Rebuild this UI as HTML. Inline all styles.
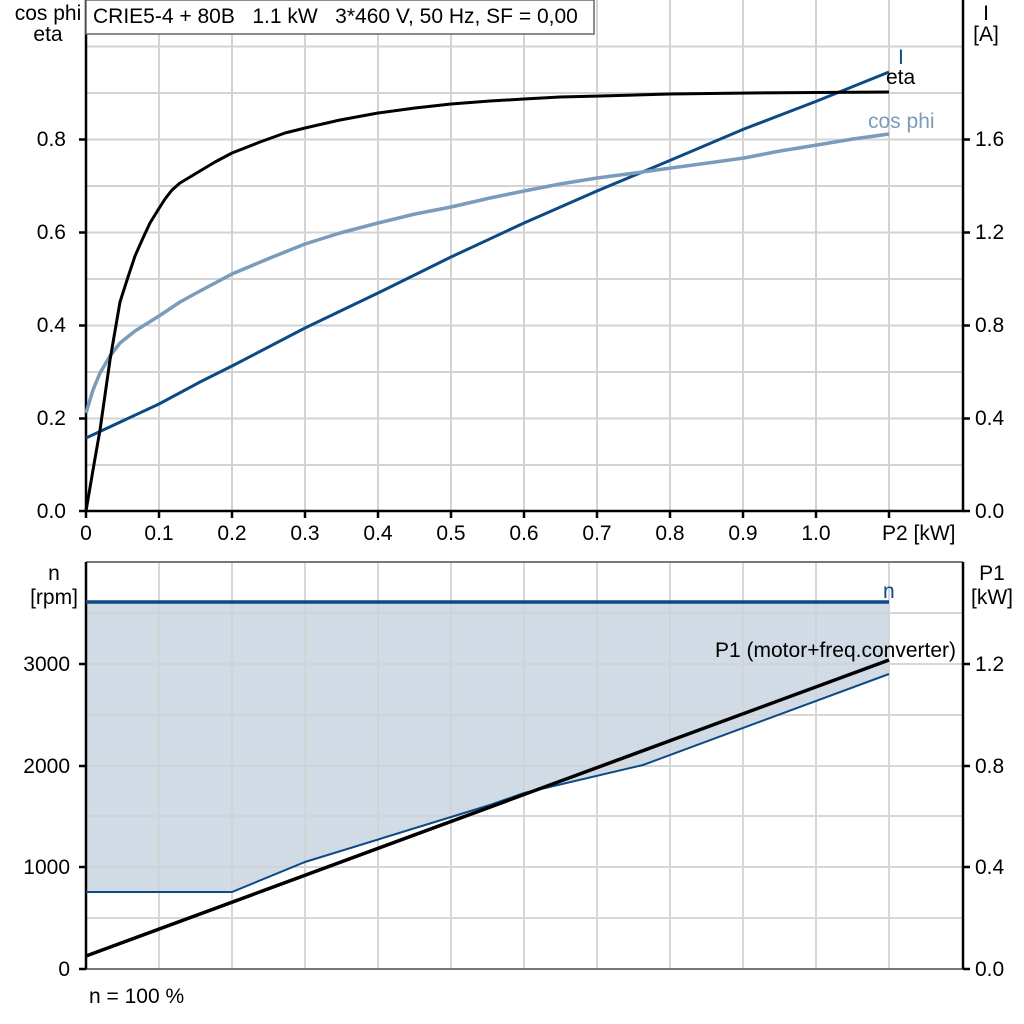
<!DOCTYPE html>
<html><head><style>body{margin:0;background:#fff}svg{display:block}text{font-family:"Liberation Sans",Arial,sans-serif;font-size:21px;fill:#000;white-space:pre}</style></head><body>
<svg width="1024" height="1024" viewBox="0 0 1024 1024">
<rect width="1024" height="1024" fill="#fff"/>
<g stroke="#d3d3d3" stroke-width="2">
<path d="M159 0V511M232 0V511M305 0V511M378 0V511M451 0V511M524 0V511M597 0V511M670 0V511M743 0V511M816 0V511M889 0V511"/>
<path d="M86 46.5H963M86 93H963M86 139.5H963M86 186H963M86 232.5H963M86 279H963M86 325.5H963M86 372H963M86 418.5H963M86 465H963"/>
</g>
<path d="M86 602H889V674L816 701L743 727L643 765L524 793L490 805L305 862L232 892H86Z" fill="#d0dbe6"/>
<g stroke="#d3d3d3" stroke-width="2" opacity="0.9">
<path d="M159 562V969M232 562V969M305 562V969M378 562V969M451 562V969M524 562V969M597 562V969M670 562V969M743 562V969M816 562V969M889 562V969"/>
<path d="M86 613H963M86 664H963M86 715H963M86 766H963M86 816H963M86 867H963M86 918H963"/>
</g>
<g stroke="#000" stroke-width="2.5" fill="none">
<path d="M86 0V511H963V0"/>
<path d="M79 511H86M79 418.5H86M79 325.5H86M79 232.5H86M79 139.5H86"/>
<path d="M963 511H970M963 418.5H970M963 325.5H970M963 232.5H970M963 139.5H970"/>
<path d="M86 511V518M159 511V518M232 511V518M305 511V518M378 511V518M451 511V518M524 511V518M597 511V518M670 511V518M743 511V518M816 511V518M889 511V518"/>
</g>
<rect x="86" y="0" width="508" height="34" fill="#fff" stroke="#666" stroke-width="1.5"/>
<text x="93" y="23">CRIE5-4 + 80B   1.1 kW   3*460 V, 50 Hz, SF = 0,00</text>
<path d="M86 562H963" stroke="#777" stroke-width="2"/>
<path d="M86 969H963" stroke="#777" stroke-width="2"/>
<g stroke="#000" stroke-width="2.5" fill="none">
<path d="M86 562V969M963 562V969"/>
<path d="M79 969H86M79 867H86M79 766H86M79 664H86M963 969H970M963 867H970M963 766H970M963 664H970"/>
</g>
<polyline points="86,438 159,404 200,382 232,366 305,328 378,293 451,257 524,223 597,191 671,160 744,129 817,101 889,72" stroke="#0d4a85" stroke-width="3" fill="none" stroke-linejoin="round"/>
<polyline points="86,413 93,390 100,373 110,356 120,343 135,331 159,316 180,302 200,291 232,274 270,258 305,244 340,233 378,223 415,214 451,207 490,198 524,191 560,184 597,178 635,173 671,168 708,163 744,158 780,151 817,145 853,139 889,134" stroke="#7a9cbc" stroke-width="3.5" fill="none" stroke-linejoin="round"/>
<polyline points="86,511 93,470 100,430 110,360 120,302 128,277 135,256 143,238 150,223 158,210 165,199 172,190 180,183 190,177 200,171 215,162 232,153 260,142 285,133 305,128 340,120 378,113 415,108 451,104 490,101 524,99 560,97 600,96 670,94 750,93 889,92" stroke="#000" stroke-width="3" fill="none" stroke-linejoin="round"/>
<path d="M86 892H232L305 862L490 805L524 793L643 765L889 674" stroke="#0d4a85" stroke-width="2" fill="none"/>
<path d="M86 602H889" stroke="#0d4a85" stroke-width="3.5"/>
<path d="M86 956L889 660" stroke="#000" stroke-width="3.5"/>
<text x="48" y="20" text-anchor="middle">cos phi</text>
<text x="48" y="41" text-anchor="middle">eta</text>
<g text-anchor="end">
<text x="66" y="146">0.8</text><text x="66" y="239">0.6</text><text x="66" y="332">0.4</text><text x="66" y="425">0.2</text><text x="66" y="518">0.0</text>
<text x="70" y="671">3000</text><text x="70" y="773">2000</text><text x="70" y="874">1000</text><text x="70" y="976">0</text>
</g>
<g>
<text x="975" y="146">1.6</text><text x="975" y="239">1.2</text><text x="975" y="332">0.8</text><text x="975" y="425">0.4</text><text x="975" y="518">0.0</text>
<text x="975" y="671">1.2</text><text x="975" y="773">0.8</text><text x="975" y="874">0.4</text><text x="975" y="976">0.0</text>
<text x="986" y="20" text-anchor="middle">I</text><text x="986" y="41" text-anchor="middle">[A]</text>
<text x="992" y="580" text-anchor="middle">P1</text><text x="992" y="604" text-anchor="middle">[kW]</text>
<text x="54" y="580" text-anchor="middle">n</text><text x="54" y="604" text-anchor="middle">[rpm]</text>
</g>
<g text-anchor="middle">
<text x="86" y="540">0</text><text x="159" y="540">0.1</text><text x="232" y="540">0.2</text><text x="305" y="540">0.3</text><text x="378" y="540">0.4</text><text x="451" y="540">0.5</text><text x="524" y="540">0.6</text><text x="597" y="540">0.7</text><text x="670" y="540">0.8</text><text x="743" y="540">0.9</text><text x="816" y="540">1.0</text>
</g>
<text x="882" y="540">P2 [kW]</text>
<text x="898" y="64" style="fill:#0d4a85">I</text>
<text x="886" y="84">eta</text>
<text x="868" y="128" style="fill:#7a9cbc">cos phi</text>
<text x="883" y="598" style="fill:#0d4a85">n</text>
<text x="715" y="657">P1 (motor+freq.converter)</text>
<text x="89" y="1003">n = 100 %</text>
</svg>
</body></html>
